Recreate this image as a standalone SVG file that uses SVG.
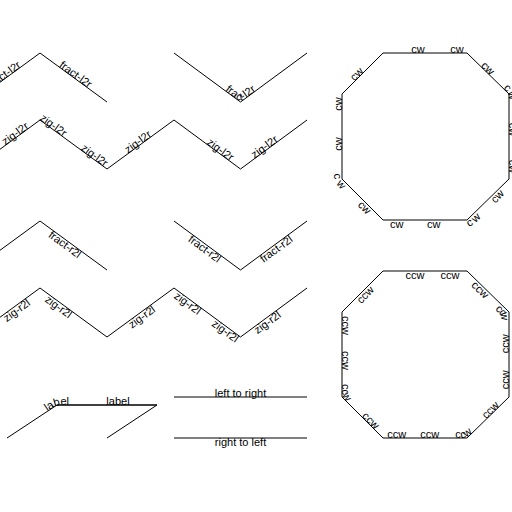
<svg xmlns="http://www.w3.org/2000/svg" width="512" height="512" viewBox="0 0 512 512">
<style>
.ln{fill:none;stroke:#000;stroke-width:1}
text{font-family:"Liberation Sans",Arial,sans-serif;font-size:11px;fill:#000}
.h{dominant-baseline:hanging}
</style>
<defs>
<path id="r1a" d="M-27 102 L40 53 L107 102"/>
<path id="r1b" d="M174 53 L240.5 102 L307 53"/>
<path id="t1b" d="M174 53 L236.47 99.03 Q240.5 102 244.53 99.03 L307 53"/>
<path id="r2" d="M-27 169 L40 120 L107 169 L174 120 L240.5 169 L307 120"/>
<path id="r3a" d="M-27 270 L40 221 L107 270"/>
<path id="r3b" d="M174 221 L240.5 270 L307 221"/>
<path id="r4" d="M-27 337 L40 288 L107 337 L174 288 L240.5 337 L307 288"/>
<path id="lab1" d="M7 438 L57 405 L157 405"/>
<path id="tlab1" d="M7 438 L52.83 407.75 Q57 405 62 405 L157 405"/>
<path id="lab2" d="M57 405 L157 405 L107 438"/>
<path id="l2r" d="M174 397 L307 397"/>
<path id="r2l" d="M174 438 L307 438"/>
<path id="oct1" d="M383 53 L467 53 L509 94 L509 179 L467 220 L383 220 L342 179 L342 94 Z"/>
<path id="oct2" d="M383 271 L467 271 L509 312 L509 397 L467 438 L383 438 L342 397 L342 312 Z"/>
<path id="cw1" d="M383 53 L462 53 Q467 53 470.58 56.49 L505.42 90.51 Q509 94 509 99 L509 174 Q509 179 505.42 182.49 L470.58 216.51 Q467 220 462 220 L388 220 Q383 220 379.46 216.46 L345.54 182.54 Q342 179 342 174 L342 99 Q342 94 345.54 90.46 L383 53 Z"/>
<path id="cc1" d="M383 53 L345.54 90.46 Q342 94 342 99 L342 174 Q342 179 345.54 182.54 L379.46 216.46 Q383 220 388 220 L462 220 Q467 220 470.58 216.51 L505.42 182.49 Q509 179 509 174 L509 99 Q509 94 505.42 90.51 L470.58 56.49 Q467 53 462 53 L383 53 Z"/>
<path id="cw2" d="M383 271 L462 271 Q467 271 470.58 274.49 L505.42 308.51 Q509 312 509 317 L509 392 Q509 397 505.42 400.49 L470.58 434.51 Q467 438 462 438 L388 438 Q383 438 379.46 434.46 L345.54 400.54 Q342 397 342 392 L342 317 Q342 312 345.54 308.46 L383 271 Z"/>
<path id="cc2" d="M383 271 L345.54 308.46 Q342 312 342 317 L342 392 Q342 397 345.54 400.54 L379.46 434.46 Q383 438 388 438 L462 438 Q467 438 470.58 434.51 L505.42 400.49 Q509 397 509 392 L509 317 Q509 312 505.42 308.51 L470.58 274.49 Q467 271 462 271 L383 271 Z"/>
</defs>
<g id="connectors">
<use href="#r1a" class="ln"/>
<use href="#r1b" class="ln"/>
<use href="#r2" class="ln"/>
<use href="#r3a" class="ln"/>
<use href="#r3b" class="ln"/>
<use href="#r4" class="ln"/>
<use href="#lab1" class="ln"/>
<use href="#lab2" class="ln"/>
<use href="#l2r" class="ln"/>
<use href="#r2l" class="ln"/>
<use href="#oct1" class="ln"/>
<use href="#oct2" class="ln"/>
</g>
<g id="fract-l2r-a" text-anchor="middle">
<text><textPath href="#r1a" startOffset="25%">fract-l2r</textPath></text>
<text><textPath href="#r1a" startOffset="75%">fract-l2r</textPath></text>
</g>
<g id="fract-l2r-b" text-anchor="middle">
<text><textPath href="#t1b" startOffset="50%">fract-l2r</textPath></text>
</g>
<g id="zig-l2r" text-anchor="middle">
<text><textPath href="#r2" startOffset="55">zig-l2r</textPath></text>
<text><textPath href="#r2" startOffset="97">zig-l2r</textPath></text>
<text><textPath href="#r2" startOffset="148">zig-l2r</textPath></text>
<text><textPath href="#r2" startOffset="207">zig-l2r</textPath></text>
<text><textPath href="#r2" startOffset="304">zig-l2r</textPath></text>
<text><textPath href="#r2" startOffset="364">zig-l2r</textPath></text>
</g>
<g id="fract-r2l-a" text-anchor="middle">
<text class="h"><textPath href="#r3a" startOffset="117">fract-r2l</textPath></text>
</g>
<g id="fract-r2l-b" text-anchor="middle">
<text class="h"><textPath href="#r3b" startOffset="25%">fract-r2l</textPath></text>
<text class="h"><textPath href="#r3b" startOffset="75%">fract-r2l</textPath></text>
</g>
<g id="zig-r2l" text-anchor="middle">
<text class="h"><textPath href="#r4" startOffset="51">zig-r2l</textPath></text>
<text class="h"><textPath href="#r4" startOffset="109">zig-r2l</textPath></text>
<text class="h"><textPath href="#r4" startOffset="206">zig-r2l</textPath></text>
<text class="h"><textPath href="#r4" startOffset="269">zig-r2l</textPath></text>
<text class="h"><textPath href="#r4" startOffset="316">zig-r2l</textPath></text>
<text class="h"><textPath href="#r4" startOffset="362">zig-r2l</textPath></text>
</g>
<g id="labels" text-anchor="middle">
<text><textPath href="#tlab1" startOffset="60">label</textPath></text>
<text><textPath href="#lab2" startOffset="61">label</textPath></text>
</g>
<g id="left-to-right" text-anchor="middle">
<text><textPath href="#l2r" startOffset="50%">left to right</textPath></text>
</g>
<g id="right-to-left" text-anchor="middle">
<text class="h"><textPath href="#r2l" startOffset="50%">right to left</textPath></text>
</g>
<g id="octagon-cw" text-anchor="middle">
<text><textPath href="#cw1" startOffset="35">cw</textPath></text>
<text><textPath href="#cw1" startOffset="74">cw</textPath></text>
<text><textPath href="#cw1" startOffset="109">cw</textPath></text>
<text><textPath href="#cw1" startOffset="141">cw</textPath></text>
<text><textPath href="#cw1" startOffset="177">cw</textPath></text>
<text><textPath href="#cw1" startOffset="214">cw</textPath></text>
<text class="h"><textPath href="#cc1" startOffset="321">cw</textPath></text>
<text class="h"><textPath href="#cc1" startOffset="288">cw</textPath></text>
<text class="h"><textPath href="#cc1" startOffset="250">cw</textPath></text>
<text class="h"><textPath href="#cc1" startOffset="213">cw</textPath></text>
<text class="h"><textPath href="#cc1" startOffset="178">cw</textPath></text>
<text class="h"><textPath href="#cc1" startOffset="143">cw</textPath></text>
<text><textPath href="#cw1" startOffset="460">cw</textPath></text>
<text><textPath href="#cw1" startOffset="500">cw</textPath></text>
<text><textPath href="#cw1" startOffset="534">cw</textPath></text>
</g>
<g id="octagon-ccw" text-anchor="middle">
<text class="h"><textPath href="#cw2" startOffset="32">ccw</textPath></text>
<text class="h"><textPath href="#cw2" startOffset="67">ccw</textPath></text>
<text class="h"><textPath href="#cw2" startOffset="106">ccw</textPath></text>
<text class="h"><textPath href="#cw2" startOffset="140">ccw</textPath></text>
<text><textPath href="#cc2" startOffset="394">ccw</textPath></text>
<text><textPath href="#cc2" startOffset="358">ccw</textPath></text>
<text><textPath href="#cc2" startOffset="319">ccw</textPath></text>
<text><textPath href="#cc2" startOffset="281">ccw</textPath></text>
<text><textPath href="#cc2" startOffset="246">ccw</textPath></text>
<text><textPath href="#cc2" startOffset="213">ccw</textPath></text>
<text><textPath href="#cc2" startOffset="179">ccw</textPath></text>
<text><textPath href="#cc2" startOffset="139">ccw</textPath></text>
<text><textPath href="#cc2" startOffset="106">ccw</textPath></text>
<text><textPath href="#cc2" startOffset="71">ccw</textPath></text>
<text class="h"><textPath href="#cw2" startOffset="538">ccw</textPath></text>
</g>
</svg>
